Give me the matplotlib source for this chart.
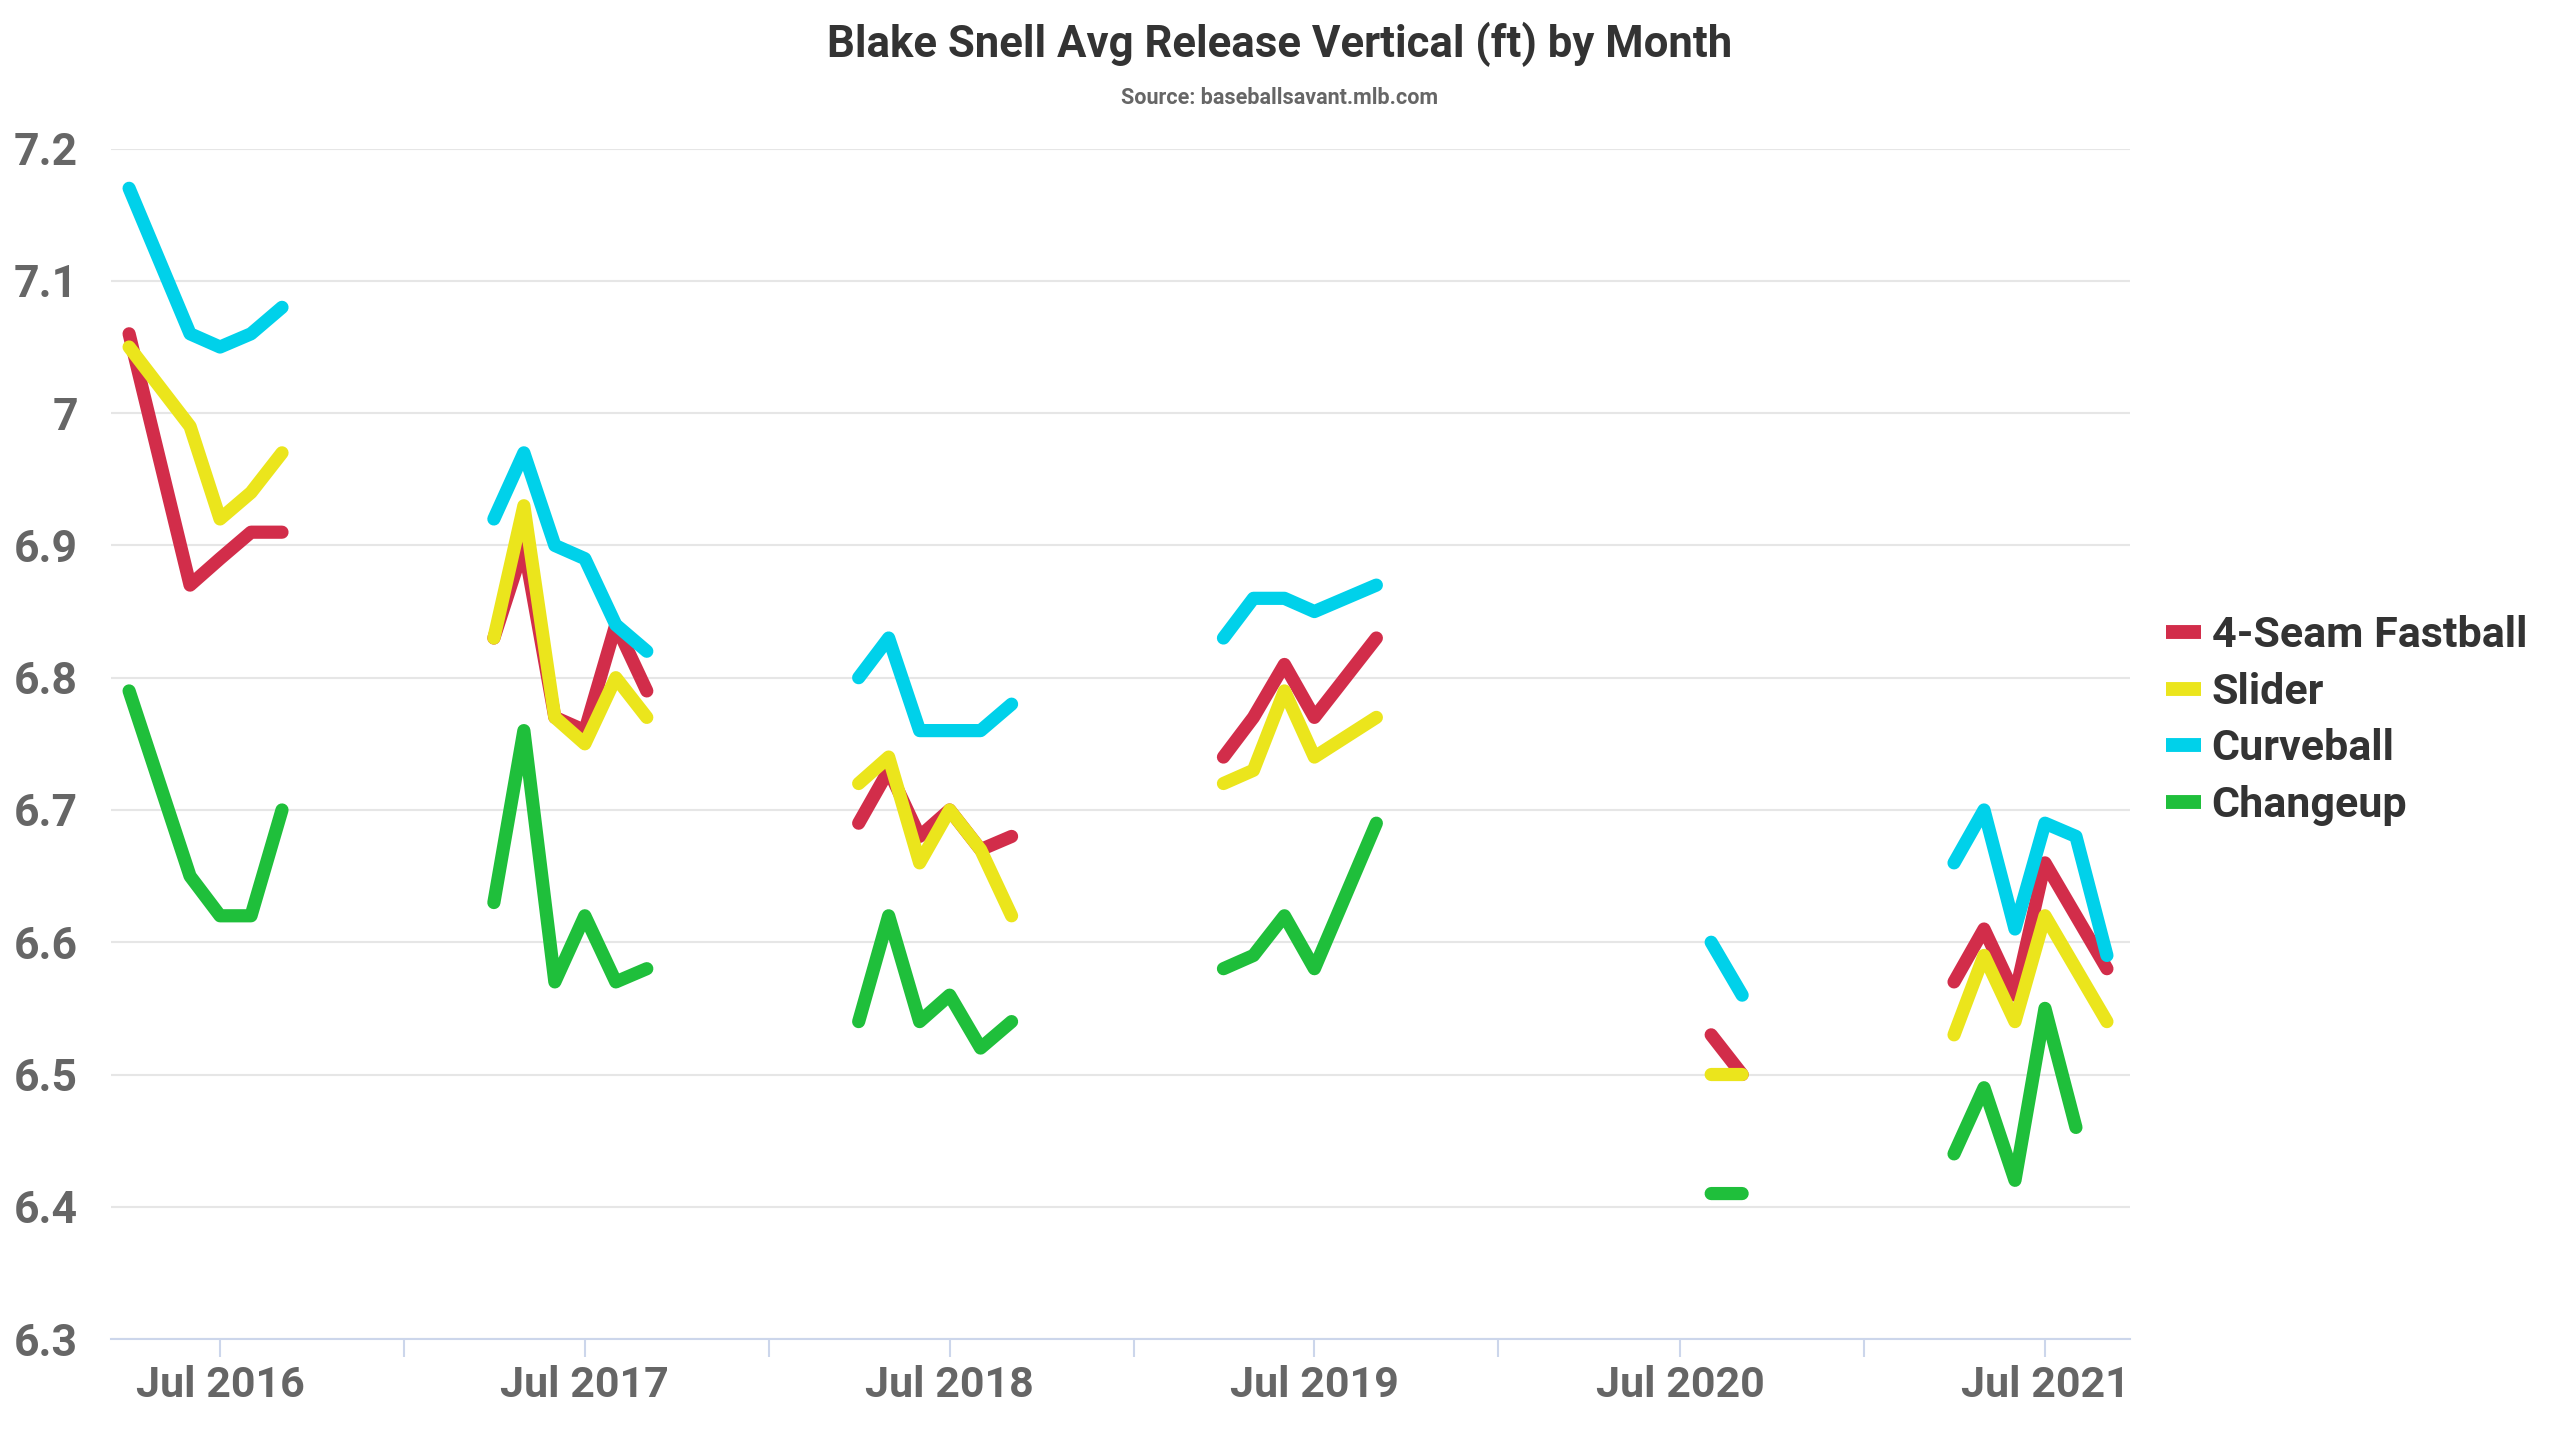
import numpy as np
import pandas as pd
import matplotlib
matplotlib.use('Agg')
import matplotlib.pyplot as plt
import matplotlib.dates as mdates
from matplotlib.lines import Line2D

# months with data (season months only), values per pitch type; None = no point that month
months = ['2016-04', '2016-05', '2016-06', '2016-07', '2016-08', '2016-09',
          '2017-04', '2017-05', '2017-06', '2017-07', '2017-08', '2017-09',
          '2018-04', '2018-05', '2018-06', '2018-07', '2018-08', '2018-09',
          '2019-04', '2019-05', '2019-06', '2019-07', '2019-08', '2019-09',
          '2020-08', '2020-09',
          '2021-04', '2021-05', '2021-06', '2021-07', '2021-08', '2021-09']

fastball = [7.06, None, 6.87, 6.89, 6.91, 6.91,
            6.83, 6.90, 6.77, 6.76, 6.84, 6.79,
            6.69, 6.73, 6.68, 6.70, 6.67, 6.68,
            6.74, 6.77, 6.81, 6.77, None, 6.83,
            6.53, 6.50,
            6.57, 6.61, 6.56, 6.66, None, 6.58]

slider = [7.05, None, 6.99, 6.92, 6.94, 6.97,
          6.83, 6.93, 6.77, 6.75, 6.80, 6.77,
          6.72, 6.74, 6.66, 6.70, 6.67, 6.62,
          6.72, 6.73, 6.79, 6.74, None, 6.77,
          6.50, 6.50,
          6.53, 6.59, 6.54, 6.62, None, 6.54]

curveball = [7.17, None, 7.06, 7.05, 7.06, 7.08,
             6.92, 6.97, 6.90, 6.89, 6.84, 6.82,
             6.80, 6.83, 6.76, 6.76, 6.76, 6.78,
             6.83, 6.86, 6.86, 6.85, None, 6.87,
             6.60, 6.56,
             6.66, 6.70, 6.61, 6.69, 6.68, 6.59]

changeup = [6.79, None, 6.65, 6.62, 6.62, 6.70,
            6.63, 6.76, 6.57, 6.62, 6.57, 6.58,
            6.54, 6.62, 6.54, 6.56, 6.52, 6.54,
            6.58, 6.59, 6.62, 6.58, None, 6.69,
            6.41, 6.41,
            6.44, 6.49, 6.42, 6.55, 6.46, None]

series_names = ['4-Seam Fastball', 'Slider', 'Curveball', 'Changeup']
series_colors = ['#d22d4a', '#ebe51c', '#00d1ea', '#1fbf3b']

y_ticks = [6.3, 6.4, 6.5, 6.6, 6.7, 6.8, 6.9, 7, 7.1, 7.2]
y_tick_labels = ['6.3', '6.4', '6.5', '6.6', '6.7', '6.8', '6.9', '7', '7.1', '7.2']

plt.rcParams['font.family'] = ['Roboto', 'DejaVu Sans']
plt.rcParams['font.weight'] = 'bold'


def season_segments(dates, values):
    # drop missing months, break the line between seasons
    s = pd.Series(values, index=dates, dtype=float).dropna()
    xs, ys = [], []
    prev = None
    for d, v in s.items():
        if prev is not None and (d - prev).days > 120:
            xs.append(prev + pd.Timedelta(days=30))
            ys.append(np.nan)
        xs.append(d)
        ys.append(v)
        prev = d
    return xs, ys


dates = pd.to_datetime(months)

fig = plt.figure(figsize=(25.6, 14.4), dpi=100)
ax = fig.add_axes([0.0434, 0.0701, 0.7886, 0.8267])

for vals, name, col in zip([fastball, slider, curveball, changeup], series_names, series_colors):
    xs, ys = season_segments(dates, vals)
    ax.plot(xs, ys, color=col, lw=9.5, solid_capstyle='round', solid_joinstyle='round', label=name)

ax.set_ylim(6.3, 7.2)
ax.set_xlim(pd.Timestamp('2016-03-14'), pd.Timestamp('2021-09-24'))

ax.set_yticks(y_ticks)
ax.set_yticklabels(y_tick_labels)
ax.grid(axis='y', color='#e6e6e6', lw=1.5)
ax.set_axisbelow(True)

ax.xaxis.set_major_locator(mdates.MonthLocator(bymonth=[7]))
ax.xaxis.set_major_formatter(mdates.DateFormatter('Jul %Y'))
ax.xaxis.set_minor_locator(mdates.MonthLocator(bymonth=[1]))

ax.tick_params(axis='y', length=0, pad=24, labelsize=32, labelcolor='#666666')
ax.tick_params(axis='x', which='both', length=13, width=1.5, color='#ccd6eb', direction='out')
ax.tick_params(axis='x', which='major', pad=6, labelsize=31, labelcolor='#666666')

for side in ['top', 'right', 'left']:
    ax.spines[side].set_visible(False)
ax.spines['bottom'].set_color('#ccd6eb')
ax.spines['bottom'].set_linewidth(1.5)

handles = [Line2D([0], [0], color=c, lw=10, solid_capstyle='butt') for c in series_colors]
leg = fig.legend(handles, series_names, loc='center left', bbox_to_anchor=(0.8395, 0.4995),
                 frameon=False, fontsize=31, handlelength=0.8, handletextpad=0.25,
                 labelspacing=0.36, borderaxespad=0)
for t in leg.get_texts():
    t.set_color('#333333')

fig.text(0.5, 0.969, 'Blake Snell Avg Release Vertical (ft) by Month', ha='center', va='center',
         fontsize=31.5, color='#333333')
fig.text(0.5, 0.932, 'Source: baseballsavant.mlb.com', ha='center', va='center',
         fontsize=15.5, color='#666666')

fig.savefig('out.png', dpi=100)
plt.close(fig)
